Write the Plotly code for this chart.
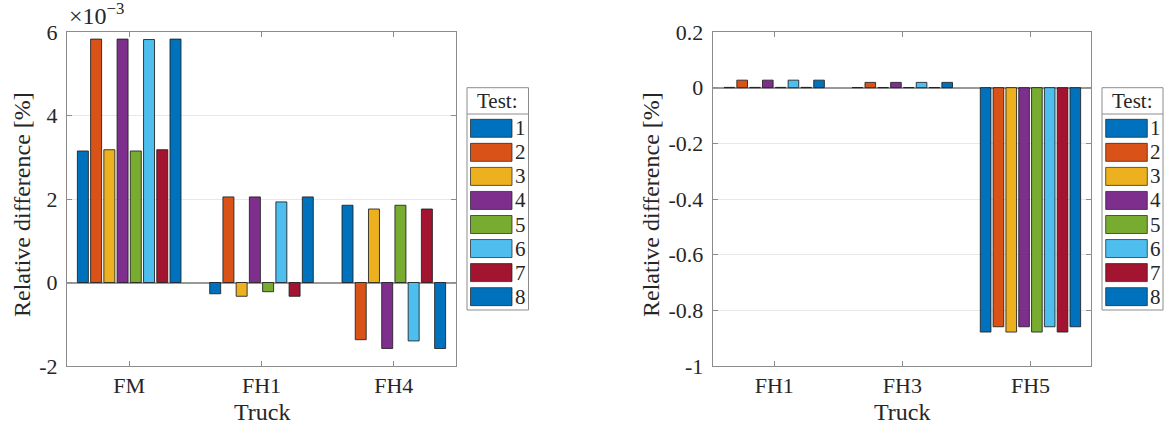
import plotly.graph_objects as go

# ---------------- data ----------------
tests = ["1", "2", "3", "4", "5", "6", "7", "8"]
colors = ["#0072BD", "#D95319", "#EDB120", "#7E2F8E", "#77AC30", "#4DBEEE", "#A2142F", "#0072BD"]

trucks_left = ["FM", "FH1", "FH4"]
# relative difference [%] (values in %, shown on a x10^-3 axis)
left_values = [
    [3.15e-3, -0.27e-3, 1.85e-3],
    [5.83e-3, 2.05e-3, -1.37e-3],
    [3.18e-3, -0.33e-3, 1.76e-3],
    [5.83e-3, 2.05e-3, -1.58e-3],
    [3.15e-3, -0.22e-3, 1.85e-3],
    [5.82e-3, 1.93e-3, -1.40e-3],
    [3.18e-3, -0.33e-3, 1.76e-3],
    [5.83e-3, 2.05e-3, -1.58e-3],
]
left_tickvals = [-0.002, 0, 0.002, 0.004, 0.006]
left_ticktext = ["-2", "0", "2", "4", "6"]

trucks_right = ["FH1", "FH3", "FH5"]
right_values = [
    [0.001, 0.0005, -0.878],
    [0.027, 0.019, -0.859],
    [0.001, 0.0005, -0.878],
    [0.027, 0.019, -0.859],
    [0.001, 0.0005, -0.878],
    [0.027, 0.019, -0.859],
    [0.001, 0.0005, -0.878],
    [0.027, 0.019, -0.859],
]
right_tickvals = [-1, -0.8, -0.6, -0.4, -0.2, 0, 0.2]
right_ticktext = ["-1", "-0.8", "-0.6", "-0.4", "-0.2", "0", "0.2"]

# ---------------- figure ----------------
W, H = 1166, 427
FONT = "'Liberation Serif', serif"
AX = "#8c8c8c"

def px(x):
    return x / W

def py(y):
    return (H - y) / H

fig = go.Figure()

for i, name in enumerate(tests):
    fig.add_trace(go.Bar(
        x=[1, 2, 3], y=left_values[i], name=name, marker_color=colors[i],
        marker_line=dict(color="rgba(30,30,30,0.85)", width=1),
        xaxis="x", yaxis="y", showlegend=False, offsetgroup=str(i)))
for i, name in enumerate(tests):
    fig.add_trace(go.Bar(
        x=[1, 2, 3], y=right_values[i], name=name, marker_color=colors[i],
        marker_line=dict(color="rgba(30,30,30,0.85)", width=1),
        xaxis="x2", yaxis="y2", showlegend=False, offsetgroup=str(i)))

common_x = dict(showgrid=False, zeroline=False, showline=True, linecolor=AX, linewidth=1,
                mirror="ticks", ticks="inside", ticklen=5, tickcolor=AX,
                tickfont=dict(family=FONT, size=22, color="#262626"))
common_y = dict(showgrid=True, gridcolor="#e8e8e8", gridwidth=1, zeroline=True,
                zerolinecolor="#999999", zerolinewidth=1.5, showline=True, linecolor=AX,
                linewidth=1, mirror="ticks", ticks="inside", ticklen=5, tickcolor=AX,
                tickfont=dict(family=FONT, size=22, color="#262626"), ticklabelstandoff=4)

fig.update_layout(
    width=W, height=H, margin=dict(l=0, r=0, t=0, b=0, autoexpand=False),
    paper_bgcolor="white", plot_bgcolor="white",
    barmode="group", bargap=0.2, bargroupgap=0.17,
    xaxis=dict(domain=[px(67), px(456)], range=[0.53, 3.47], tickvals=[1, 2, 3],
               ticktext=trucks_left, anchor="y", **common_x),
    yaxis=dict(domain=[py(366), py(32)], range=[-0.002, 0.006], tickvals=left_tickvals,
               ticktext=left_ticktext, anchor="x", **common_y),
    xaxis2=dict(domain=[px(712.7), px(1090.7)], range=[0.52, 3.47], tickvals=[1, 2, 3],
                ticktext=trucks_right, anchor="y2", **common_x),
    yaxis2=dict(domain=[py(366), py(32)], range=[-1, 0.2], tickvals=right_tickvals,
                ticktext=right_ticktext, anchor="x2", **common_y),
    showlegend=False,
)

ann = []
shapes = []
tf = dict(family=FONT, size=24, color="#262626")
# axis titles
ann.append(dict(x=px(22), y=py(205), xref="paper", yref="paper", text="Relative difference [%]",
                textangle=-90, showarrow=False, font=tf, xanchor="center", yanchor="middle"))
ann.append(dict(x=px(651), y=py(205), xref="paper", yref="paper", text="Relative difference [%]",
                textangle=-90, showarrow=False, font=tf, xanchor="center", yanchor="middle"))
ann.append(dict(x=px(262), y=py(412), xref="paper", yref="paper", text="Truck",
                showarrow=False, font=tf, xanchor="center", yanchor="middle"))
ann.append(dict(x=px(902), y=py(412), xref="paper", yref="paper", text="Truck",
                showarrow=False, font=tf, xanchor="center", yanchor="middle"))
# exponent
ann.append(dict(x=px(67), y=py(14), xref="paper", yref="paper", text="×10<sup>−3</sup>",
                showarrow=False, font=dict(family=FONT, size=24, color="#262626"),
                xanchor="left", yanchor="middle"))

# manual legends
def legend(x0, x1, p0, p1):
    top, div, bottom = 87.7, 114, 310
    shapes.append(dict(type="rect", xref="paper", yref="paper", x0=px(x0), x1=px(x1),
                       y0=py(bottom), y1=py(top), line=dict(color="#8c8c8c", width=1),
                       fillcolor="white"))
    shapes.append(dict(type="line", xref="paper", yref="paper", x0=px(x0), x1=px(x1),
                       y0=py(div), y1=py(div), line=dict(color="#8c8c8c", width=1)))
    ann.append(dict(x=px((x0 + x1) / 2), y=py(100.5), xref="paper", yref="paper", text="Test:",
                    showarrow=False, font=dict(family=FONT, size=21, color="#262626"),
                    xanchor="center", yanchor="middle"))
    for k, name in enumerate(tests):
        cy = 128.3 + k * 24.05
        shapes.append(dict(type="rect", xref="paper", yref="paper", x0=px(p0), x1=px(p1),
                           y0=py(cy + 9), y1=py(cy - 9), fillcolor=colors[k],
                           line=dict(color="rgba(30,30,30,0.7)", width=1)))
        ann.append(dict(x=px(p1 + 1), y=py(cy), xref="paper", yref="paper", text=name,
                        showarrow=False, font=dict(family=FONT, size=21, color="#262626"),
                        xanchor="left", yanchor="middle"))

legend(467, 528.5, 470.5, 512)
legend(1102, 1163, 1105.7, 1147.3)

fig.update_layout(annotations=ann, shapes=shapes)
fig.write_html("out.html", config={"displayModeBar": False},
               post_script="document.body.style.margin='0px';document.body.style.overflow='hidden';")
